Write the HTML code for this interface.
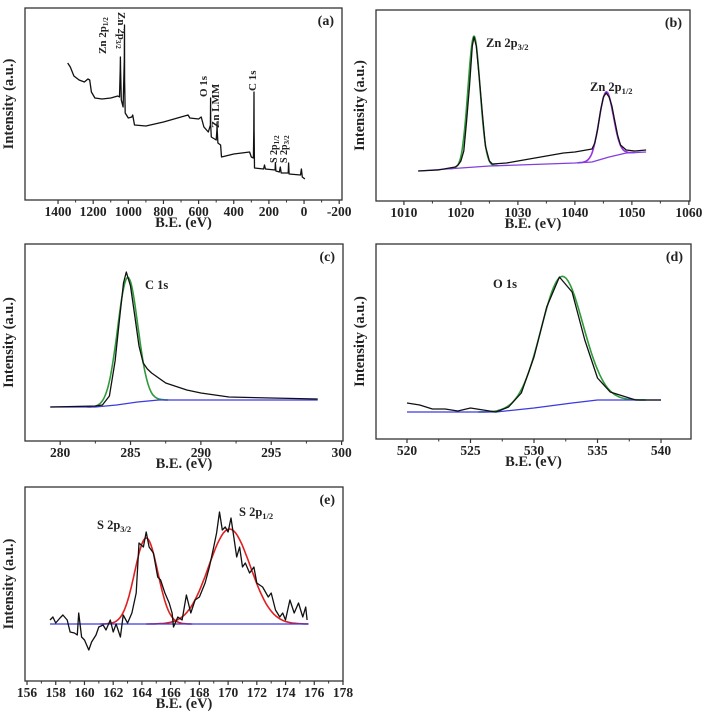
<!DOCTYPE html>
<html><head><meta charset="utf-8"><style>
body{margin:0;background:#fff}
svg{display:block;font-family:"Liberation Serif",serif;font-weight:bold}
svg text{font-weight:bold}
</style></head><body>
<svg id="fig" width="708" height="713" viewBox="0 0 708 713"></svg>
<script>
// ---- Panel (a) survey data (eV, intensity)
const aX=[1345,1330,1310,1280,1250,1230,1220,1210,1190,1150,1100,1060,1050,1046,1045,1044,1040,1030,1023,1022,1021,1018,1000,980,975,965,900,800,700,660,650,600,585,570,545,533,532,531,528,500,496,495,494,490,475,470,400,310,300,288,286,285,284,282,230,225,220,165,163,160,140,135,130,90,88,85,20,15,10,-5];
const aY=[137,133,124,120,118,121,120,108,102,101,102,104,103,130,143,130,100,93,140,175,120,87,82,83,85,75,74,78,83,85,82,81,83,73,68,75,102,75,63,60,70,78,70,57,55,43,46,48,43,42,70,108,70,32,31,35,31,30,37,29,28,33,27,27,37,26,25,31,23,21];
// ---- Panel (b) Zn 2p
const bX=[1012.5,1016,1019,1019.5,1020,1020.5,1021,1021.5,1022,1022.3,1022.7,1023.2,1023.8,1024.3,1025,1025.5,1028,1030,1032,1035,1038,1040,1042,1043,1043.5,1044,1044.5,1045,1045.5,1046,1046.5,1047,1047.5,1048,1049,1050.5,1052.5];
const bY=[30,31,34,36,40,50,80,115,155,164,155,125,85,55,40,37,38,40,42,45,48,49,51,52,58,72,90,104,108,104,95,80,66,56,51,50,51];
const bBaseX=[1012.5,1020,1025,1040,1043,1046,1049,1052.5];
const bBaseY=[30,33,35,38,39,44,48,49];
const bPeakC=[1022.3,1045.5], bPeakH=[131,66], bPeakW=[1.05,1.25];
// ---- Panel (c) C 1s
const cX=[279.3,282.5,283,283.5,283.9,284.2,284.5,284.7,285,285.3,285.6,285.9,286.2,286.5,287.5,289,290,292,295,298.3];
const cY=[34,35,36,45,80,120,158,169,155,125,95,78,72,68,58,51,48,44,43,42];
const cBaseX=[279.3,282.5,284,285.5,287,298.3];
const cBaseY=[34,34,36,39,41,41];
const cPeakC=[284.8], cPeakH=[126], cPeakW=[0.72];
// ---- Panel (d) O 1s
const dX=[520,521,522,523,524,525,526,527,528,529,530,531,532,533,534,535,536,537,538,540];
const dY=[36,34,30,30,28,31,29,27,32,46,82,132,162,147,99,61,47,43,39,39];
const dBaseX=[520,527,530,533,535,540];
const dBaseY=[27,27,31,36,39,39];
const dPeakC=[532.2], dPeakH=[128], dPeakW=[1.65];
// ---- Panel (e) S 2p
const eX=[157.6,157.8,158,158.3,158.5,158.8,159,159.3,159.5,159.6,159.8,160,160.3,160.5,160.8,161,161.3,161.5,161.8,162,162.2,162.5,162.7,163,163.3,163.6,163.8,164.1,164.3,164.5,164.8,165.1,165.3,165.6,165.9,166.1,166.2,166.5,166.8,167.1,167.4,167.7,168,168.4,168.7,169,169.2,169.4,169.6,169.8,170,170.2,170.4,170.6,170.8,171,171.2,171.5,171.8,172,172.4,172.8,173,173.3,173.6,173.8,174,174.3,174.6,174.9,175.2,175.4,175.5];
const eY=[61,64,58,63,66,61,49,48,46,68,44,41,31,39,46,54,56,51,61,49,57,44,66,58,68,88,138,134,149,134,128,104,101,88,78,68,54,64,61,86,68,81,84,98,114,134,148,169,151,154,149,163,144,124,134,114,118,108,114,98,94,84,88,71,64,68,61,81,68,78,64,74,61];
const eBaseX=[157.6,175.6];
const eBaseY=[57,57];
const ePeakC=[164.3,170.1], ePeakH=[86,95], ePeakW=[0.8,1.45];

const NS="http://www.w3.org/2000/svg";
const svg=document.getElementById('fig');
function el(t,a,p){const e=document.createElementNS(NS,t);for(const k in a)e.setAttribute(k,a[k]);if(t==='text')e.setAttribute('font-weight','bold');(p||svg).appendChild(e);return e;}

function panel(P){
  const g=el('g',{});
  
  
  const sx=v=>P.x0+(v-P.xmin)/(P.xmax-P.xmin)*(P.x1-P.x0);
  const sy=v=>P.y1-v;
  const fr=el('rect',{x:P.x0,y:P.y0,width:P.x1-P.x0,height:P.y1-P.y0,fill:'none',stroke:'#333','stroke-width':1.3},g);
  
  
  for(let i=0;i<P.ticks.length;i++){
    const v=P.ticks[i],x=sx(v);
    const t=el('line',{x1:x,x2:x,y1:P.y1,y2:P.y1+4,stroke:'#333','stroke-width':1.2},g);
    
    
    const tx=el('text',{x:x,y:P.y1+16,'text-anchor':'middle','font-size':P.tfs||13.5,fill:'#222'},g);
    tx.textContent=String(v);
    
    
    if(i<P.ticks.length-1){const m=sx((v+P.ticks[i+1])/2);
      const mt=el('line',{x1:m,x2:m,y1:P.y1,y2:P.y1+2.5,stroke:'#333','stroke-width':1},g);
      
      }
  }
  const xl=el('text',{x:(P.x0+P.x1)/2,y:P.y1+27,'text-anchor':'middle','font-size':14.5,fill:'#222'},g);
  xl.textContent='B.E. (eV)';
  
  
  const yx=P.x0-12, yy=(P.y0+P.y1)/2;
  const yl=el('text',{x:yx,y:yy,'text-anchor':'middle','font-size':14.5,fill:'#222',transform:`rotate(-90 ${yx} ${yy})`},g);
  yl.textContent='Intensity (a.u.)';
  
  
  const lb=el('text',{x:P.x1-8,y:P.y0+17,'text-anchor':'end','font-size':14,fill:'#222'},g);
  lb.textContent=P.label;
  
  
  function poly(xs,ys,col,w,nm){
    const d=xs.map((x,i)=>(i?'L':'M')+sx(x).toFixed(1)+','+sy(ys[i]).toFixed(1)).join('');
    const p=el('path',{d:d,fill:'none',stroke:col,'stroke-width':w,'stroke-linejoin':'round'},g);
    
    
  }
  function base(x){const bx=P.bx,by=P.by;if(x<=bx[0])return by[0];for(let i=1;i<bx.length;i++)if(x<=bx[i])return by[i-1]+(by[i]-by[i-1])*(x-bx[i-1])/(bx[i]-bx[i-1]);return by[by.length-1];}
  if(P.bx){
    const lo=P.bx[0],hi=P.bx[P.bx.length-1];
    for(let k=0;k<P.pc.length;k++){
      const xs=[],ys=[];
      const a=Math.max(lo,P.pc[k]-4*P.pw[k]),b=Math.min(hi,P.pc[k]+4*P.pw[k]);
      for(let j=0;j<=80;j++){const x=a+(b-a)*j/80;xs.push(x);ys.push(base(x)+P.ph[k]*Math.exp(-0.5*((x-P.pc[k])/P.pw[k])**2));}
      poly(xs,ys,P.fitCols[k],1.6,'fit-peak');
    }
    poly(P.bx,P.by,P.baseCol,1.3,'background-line');
  }
  poly(P.dx,P.dy,'#111',1.3,'raw-spectrum');
  (P.anns||[]).forEach(a=>{
    const t=el('text',{x:a[0],y:a[1],'font-size':a[4]||12.5,fill:'#222',transform:a[3]?`rotate(${a[3]} ${a[0]} ${a[1]})`:''},g);
    t.innerHTML=a[2];
    
    
  });
}
const sub=(m,s)=>`${m}<tspan font-size="8.5" dy="3">${s}</tspan>`;
panel({name:'panel-a-survey',x0:25,x1:342,y0:8,y1:200,xmin:1588,xmax:-216,ticks:[1400,1200,1000,800,600,400,200,0,-200],label:'(a)',dx:aX,dy:aY,
 anns:[[106,54,'Zn 2p<tspan font-size="7" dy="2">1/2</tspan>',-90,11],[118,12,'Zn 2p<tspan font-size="7" dy="2">3/2</tspan>',90,11],[207,97,'O 1s',-90,11],[219,128,'Zn LMM',-90,11],[256,91,'C 1s',-90,11],[277,163,'S 2p<tspan font-size="7" dy="2">1/2</tspan>',-90,10],[287,163,'S 2p<tspan font-size="7" dy="2">3/2</tspan>',-90,10]]});
panel({name:'panel-b-zn2p',x0:376,x1:690,y0:10,y1:201,xmin:1005.1,xmax:1060.2,ticks:[1010,1020,1030,1040,1050,1060],label:'(b)',dx:bX,dy:bY,
 bx:bBaseX,by:bBaseY,pc:bPeakC,ph:bPeakH,pw:bPeakW,fitCols:['#2f9a3a','#9a30e0'],baseCol:'#8040e0',
 anns:[[486,47,sub('Zn 2p','3/2')],[590,91,sub('Zn 2p','1/2')]]});
panel({name:'panel-c-c1s',x0:25,x1:343,y0:244,y1:441,xmin:277.5,xmax:300.1,ticks:[280,285,290,295,300],label:'(c)',dx:cX,dy:cY,
 bx:cBaseX,by:cBaseY,pc:cPeakC,ph:cPeakH,pw:cPeakW,fitCols:['#2f9a3a'],baseCol:'#3a3ae0',
 anns:[[145,289,'C 1s']]});
panel({name:'panel-d-o1s',x0:376,x1:691,y0:244,y1:439,xmin:517.56,xmax:542.36,ticks:[520,525,530,535,540],label:'(d)',dx:dX,dy:dY,
 bx:dBaseX,by:dBaseY,pc:dPeakC,ph:dPeakH,pw:dPeakW,fitCols:['#2f9a3a'],baseCol:'#3a3ae0',
 anns:[[493,288,'O 1s']]});
panel({name:'panel-e-s2p',x0:25,x1:343,y0:487,y1:681,xmin:155.86,xmax:178,ticks:[156,158,160,162,164,166,168,170,172,174,176,178],label:'(e)',dx:eX,dy:eY,
 bx:eBaseX,by:eBaseY,pc:ePeakC,ph:ePeakH,pw:ePeakW,fitCols:['#e02020','#e02020'],baseCol:'#3a3ae0',
 anns:[[97,529,sub('S 2p','3/2')],[239,516,sub('S 2p','1/2')]]});
</script>
</body></html>
